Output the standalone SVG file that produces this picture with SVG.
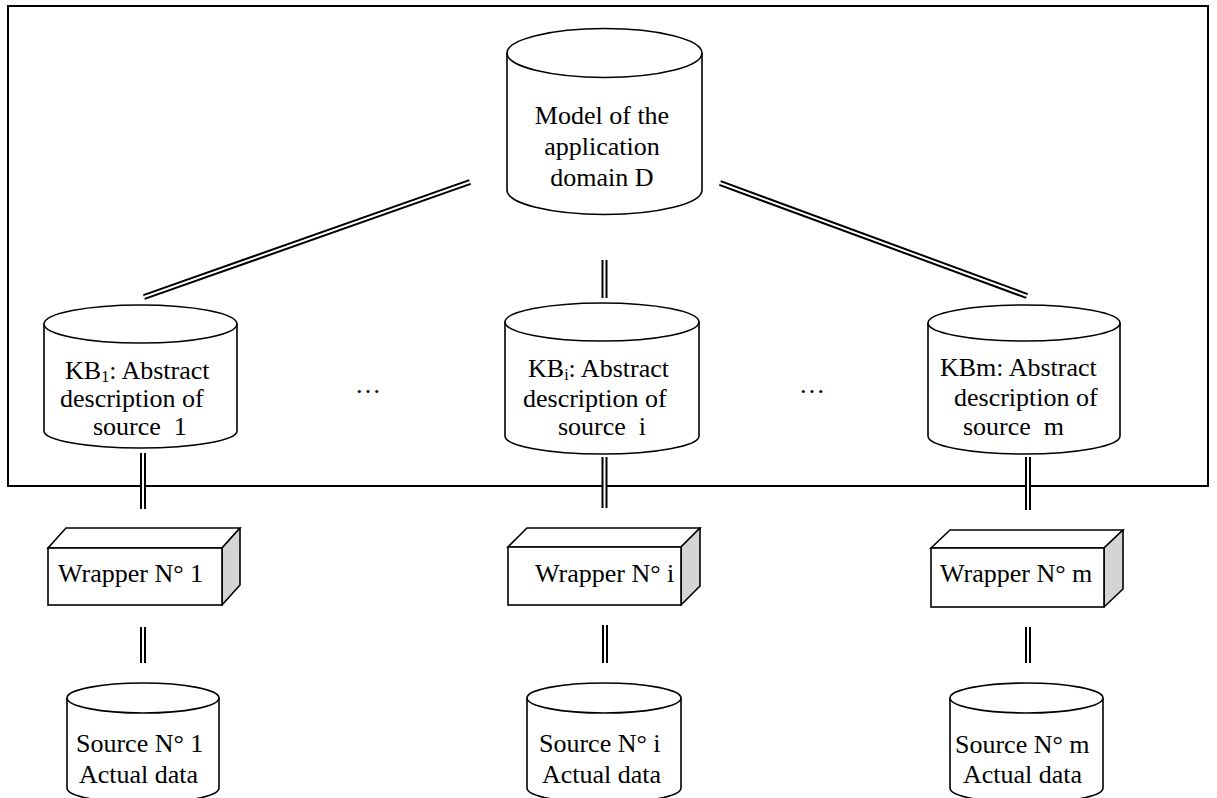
<svg xmlns="http://www.w3.org/2000/svg" width="1217" height="798" viewBox="0 0 1217 798">
  <style>
    .frame { fill: none; stroke: #000; stroke-width: 2; }
    .shape { fill: #fff; stroke: #000; stroke-width: 1.6; }
    .side { fill: #d4d4d4; stroke: #000; stroke-width: 1.6; stroke-linejoin: round; }
    .lbl { font-family: "Liberation Serif", "Times New Roman", serif; font-size: 26px; fill: #000; }
    .mid { text-anchor: middle; }
    .sub { font-size: 16px; }
    .dbl-o { stroke: #000; stroke-width: 6; fill: none; }
    .dbl-i { stroke: #fff; stroke-width: 2; fill: none; }
  </style>

  <rect x="0" y="0" width="1217" height="798" fill="#fff"/>

  <!-- mediation layer boundary -->
  <rect class="frame" x="8" y="6" width="1200" height="480"/>

  <!-- double-line links -->
  <g id="connectors">
    <g class="dbl-o">
      <line x1="144" y1="297" x2="470" y2="182"/>
      <line x1="720" y1="183" x2="1027" y2="296"/>
      <line x1="604.5" y1="260" x2="604.5" y2="298"/>
      <line x1="143" y1="453" x2="143" y2="509"/>
      <line x1="604.5" y1="457" x2="604.5" y2="508"/>
      <line x1="1028" y1="457" x2="1028" y2="510"/>
      <line x1="143" y1="627" x2="143" y2="663"/>
      <line x1="605" y1="625" x2="605" y2="663"/>
      <line x1="1028" y1="627" x2="1028" y2="663"/>
    </g>
    <g class="dbl-i">
      <line x1="144" y1="297" x2="470" y2="182"/>
      <line x1="720" y1="183" x2="1027" y2="296"/>
      <line x1="604.5" y1="260" x2="604.5" y2="298"/>
      <line x1="143" y1="453" x2="143" y2="509"/>
      <line x1="604.5" y1="457" x2="604.5" y2="508"/>
      <line x1="1028" y1="457" x2="1028" y2="510"/>
      <line x1="143" y1="627" x2="143" y2="663"/>
      <line x1="605" y1="625" x2="605" y2="663"/>
      <line x1="1028" y1="627" x2="1028" y2="663"/>
    </g>
  </g>

  <!-- global model -->
  <g id="domain-model">
    <path class="shape" d="M507,53 L507,190 A97.5,24.5 0 0 0 702,190 L702,53"/>
    <ellipse class="shape" cx="604.5" cy="53" rx="97.5" ry="24.5"/>
    <text class="lbl mid" x="602" y="124">Model of the</text>
    <text class="lbl mid" x="602" y="155">application</text>
    <text class="lbl mid" x="602" y="186">domain D</text>
  </g>

  <!-- knowledge bases -->
  <g id="kb-1">
    <path class="shape" d="M44,324 L44,431 A96.5,17 0 0 0 237,431 L237,324"/>
    <ellipse class="shape" cx="140.5" cy="324" rx="96.5" ry="19"/>
    <text class="lbl" x="65" y="379">KB<tspan class="sub" dy="3">1</tspan><tspan dy="-3">: Abstract</tspan></text>
    <text class="lbl" x="60" y="407">description of</text>
    <text class="lbl" x="93" y="435" xml:space="preserve">source  1</text>
  </g>

  <g id="kb-i">
    <path class="shape" d="M505,322 L505,436 A97,18 0 0 0 699,436 L699,322"/>
    <ellipse class="shape" cx="602" cy="322" rx="97" ry="19"/>
    <text class="lbl" x="528" y="377">KB<tspan class="sub" dy="3">i</tspan><tspan dy="-3">: Abstract</tspan></text>
    <text class="lbl" x="523" y="407">description of</text>
    <text class="lbl" x="558" y="435" xml:space="preserve">source  i</text>
  </g>

  <g id="kb-m">
    <path class="shape" d="M928,323 L928,436 A96,18 0 0 0 1120,436 L1120,323"/>
    <ellipse class="shape" cx="1024" cy="323" rx="96" ry="18"/>
    <text class="lbl" x="940" y="376">KBm: Abstract</text>
    <text class="lbl" x="954" y="406">description of</text>
    <text class="lbl" x="963" y="435" xml:space="preserve">source  m</text>
  </g>

  <!-- ellipses between columns -->
  <g id="gaps">
    <text class="lbl mid" x="368" y="393">…</text>
    <text class="lbl mid" x="812" y="393">…</text>
  </g>

  <!-- wrappers -->
  <g id="wrapper-1">
    <polygon class="shape" points="48,548 66,528 240,528 222,548"/>
    <polygon class="side" points="222,548 240,528 240,585 222,605"/>
    <rect class="shape" x="48" y="548" width="174" height="57"/>
    <text class="lbl" x="58" y="582">Wrapper N° 1</text>
  </g>

  <g id="wrapper-i">
    <polygon class="shape" points="508,547 527,528 700,528 681,547"/>
    <polygon class="side" points="681,547 700,528 700,586 681,605"/>
    <rect class="shape" x="508" y="547" width="173" height="58"/>
    <text class="lbl" x="535" y="582">Wrapper N° i</text>
  </g>

  <g id="wrapper-m">
    <polygon class="shape" points="931,548 950,530 1123,530 1104,548"/>
    <polygon class="side" points="1104,548 1123,530 1123,589 1104,607"/>
    <rect class="shape" x="931" y="548" width="173" height="59"/>
    <text class="lbl" x="940" y="582">Wrapper N° m</text>
  </g>

  <!-- data sources -->
  <g id="source-1">
    <path class="shape" d="M67,698 L67,788 A76,15 0 0 0 219,788 L219,698"/>
    <ellipse class="shape" cx="143" cy="698" rx="76" ry="15"/>
    <text class="lbl" x="76" y="752">Source N° 1</text>
    <text class="lbl" x="79" y="783">Actual data</text>
  </g>

  <g id="source-i">
    <path class="shape" d="M527,698 L527,788 A77,15 0 0 0 681,788 L681,698"/>
    <ellipse class="shape" cx="604" cy="698" rx="77" ry="15"/>
    <text class="lbl" x="539" y="752">Source N° i</text>
    <text class="lbl" x="542" y="783">Actual data</text>
  </g>

  <g id="source-m">
    <path class="shape" d="M950,698 L950,788 A76.5,15 0 0 0 1103,788 L1103,698"/>
    <ellipse class="shape" cx="1026.5" cy="698" rx="76.5" ry="15"/>
    <text class="lbl" x="955" y="753">Source N° m</text>
    <text class="lbl" x="963" y="783">Actual data</text>
  </g>
</svg>
